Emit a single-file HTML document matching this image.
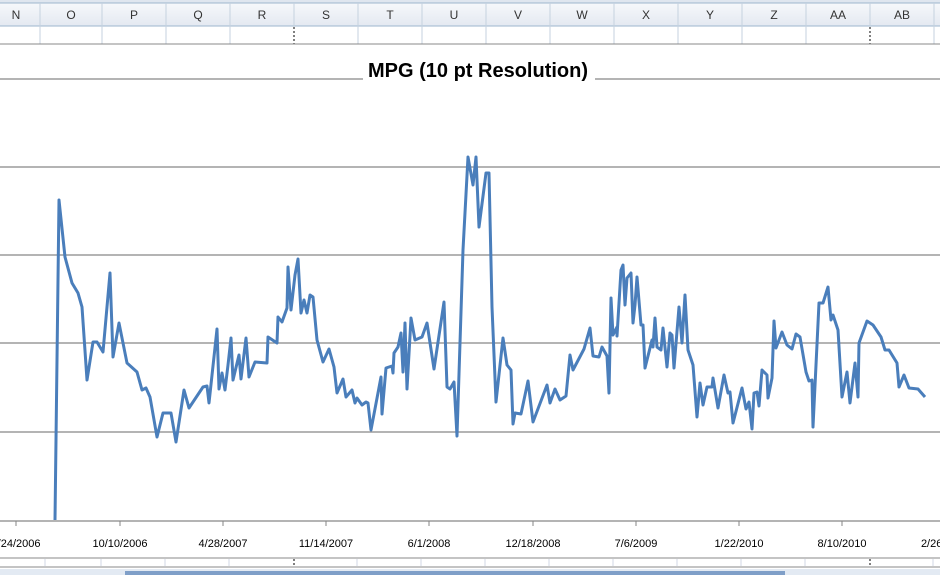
<!DOCTYPE html>
<html><head><meta charset="utf-8"><style>
body{margin:0;width:940px;height:575px;overflow:hidden;background:#fff;font-family:"Liberation Sans",sans-serif}
</style></head><body>
<svg width="940" height="575" xmlns="http://www.w3.org/2000/svg" font-family="Liberation Sans, sans-serif">
<defs><linearGradient id="hg" x1="0" y1="0" x2="0" y2="1"><stop offset="0" stop-color="#f6f8fb"/><stop offset="1" stop-color="#e4e9f1"/></linearGradient></defs>
<rect x="0" y="0" width="940" height="3" fill="#dfe6ef"/>
<rect x="0" y="3" width="940" height="23" fill="url(#hg)"/>
<line x1="0" y1="3" x2="940" y2="3" stroke="#9eb6ce"/>
<line x1="0" y1="26" x2="940" y2="26" stroke="#9eb6ce"/>
<g stroke="#c5d2df">
<line x1="40" y1="3" x2="40" y2="44"/><line x1="102" y1="3" x2="102" y2="44"/><line x1="166" y1="3" x2="166" y2="44"/><line x1="230" y1="3" x2="230" y2="44"/><line x1="294" y1="3" x2="294" y2="26"/><line x1="358" y1="3" x2="358" y2="44"/><line x1="422" y1="3" x2="422" y2="44"/><line x1="486" y1="3" x2="486" y2="44"/><line x1="550" y1="3" x2="550" y2="44"/><line x1="614" y1="3" x2="614" y2="44"/><line x1="678" y1="3" x2="678" y2="44"/><line x1="742" y1="3" x2="742" y2="44"/><line x1="806" y1="3" x2="806" y2="44"/><line x1="870" y1="3" x2="870" y2="26"/><line x1="934" y1="3" x2="934" y2="44"/>
</g>
<line x1="294" y1="27" x2="294" y2="44" stroke="#000" stroke-dasharray="2,2"/>
<line x1="870" y1="27" x2="870" y2="44" stroke="#000" stroke-dasharray="2,2"/>
<g font-size="12" fill="#333" text-anchor="middle">
<text x="16" y="19">N</text><text x="71" y="19">O</text><text x="134" y="19">P</text><text x="198" y="19">Q</text><text x="262" y="19">R</text><text x="326" y="19">S</text><text x="390" y="19">T</text><text x="454" y="19">U</text><text x="518" y="19">V</text><text x="582" y="19">W</text><text x="646" y="19">X</text><text x="710" y="19">Y</text><text x="774" y="19">Z</text><text x="838" y="19">AA</text><text x="902" y="19">AB</text>
</g>
<line x1="0" y1="44" x2="940" y2="44" stroke="#888"/>
<g stroke="#868686" stroke-width="1.2">
<line x1="0" y1="79" x2="940" y2="79"/><line x1="0" y1="167" x2="940" y2="167"/><line x1="0" y1="255" x2="940" y2="255"/><line x1="0" y1="343" x2="940" y2="343"/><line x1="0" y1="432" x2="940" y2="432"/><line x1="0" y1="521" x2="940" y2="521"/>
</g>
<rect x="363" y="58" width="232" height="24" fill="#fff"/>
<text x="478" y="77" font-size="20" font-weight="bold" text-anchor="middle" fill="#000">MPG (10 pt Resolution)</text>
<g stroke="#868686"><line x1="16" y1="521" x2="16" y2="526"/><line x1="120" y1="521" x2="120" y2="526"/><line x1="223" y1="521" x2="223" y2="526"/><line x1="326" y1="521" x2="326" y2="526"/><line x1="429" y1="521" x2="429" y2="526"/><line x1="533" y1="521" x2="533" y2="526"/><line x1="636" y1="521" x2="636" y2="526"/><line x1="739" y1="521" x2="739" y2="526"/><line x1="842" y1="521" x2="842" y2="526"/></g>
<g font-size="11" fill="#000" text-anchor="middle">
<text x="16" y="547">4/24/2006</text><text x="120" y="547">10/10/2006</text><text x="223" y="547">4/28/2007</text><text x="326" y="547">11/14/2007</text><text x="429" y="547">6/1/2008</text><text x="533" y="547">12/18/2008</text><text x="636" y="547">7/6/2009</text><text x="739" y="547">1/22/2010</text><text x="842" y="547">8/10/2010</text><text x="945" y="547">2/26/2011</text>
</g>
<polyline fill="none" stroke="#4a7ebb" stroke-width="3" stroke-linejoin="round" points="55,520 59,200 65,257 72,283 78,293 82,307 87,380 93,342 97,342 103,352 110,273 113,357 119,323 127,363 137,372 142,390 146,388 150,397 157,437 163,413 171,413 176,442 184,390 189,408 203,387 207,386 209,403 217,329 219,389 222,373 225,390 228,365 231,338 233,380 239,355 241,379 246,338 249,377 255,362 267,363 268,337 277,343 278,317 282,322 287,308 288,267 291,310 295,275 298,259 301,313 304,300 307,313 310,295 313,297 317,340 323,362 329,349 334,367 337,393 343,379 346,397 352,390 355,403 357,398 362,405 366,402 368,403 371,430 381,377 382,414 386,368 392,366 393,373 394,353 398,347 401,333 403,372 405,323 407,389 411,318 415,340 422,337 427,323 434,369 444,302 447,387 450,389 454,382 457,436 463,250 468,157 473,185 476,157 479,227 486,173 489,173 492,307 496,402 503,338 507,365 511,370 513,424 515,413 521,414 528,381 533,422 547,385 550,403 555,389 560,400 566,396 570,355 573,370 584,349 590,328 593,356 599,357 602,347 607,356 609,393 611,298 613,335 617,327 617,336 621,270 623,265 625,305 627,278 631,273 633,323 635,305 637,277 641,325 643,325 645,368 652,340 653,347 655,318 657,347 661,350 663,328 667,367 670,333 672,335 674,368 679,307 682,343 685,295 688,350 693,365 697,417 700,383 703,405 707,387 712,387 713,378 718,408 724,375 728,393 730,392 733,423 742,388 746,409 749,402 752,429 754,393 757,392 759,406 762,370 767,375 768,398 772,378 774,321 776,348 782,332 787,345 792,349 796,334 800,337 806,372 809,381 812,380 813,427 819,303 823,303 828,287 831,320 833,315 838,330 842,397 847,372 850,403 855,363 858,397 859,343 867,321 873,325 881,337 885,350 889,350 897,363 899,387 904,375 909,388 918,389 925,397"/>
<line x1="0" y1="558" x2="940" y2="558" stroke="#888"/>
<g stroke="#d0d7e5"><line x1="45" y1="559" x2="45" y2="566"/><line x1="101" y1="559" x2="101" y2="566"/><line x1="165" y1="559" x2="165" y2="566"/><line x1="229" y1="559" x2="229" y2="566"/><line x1="357" y1="559" x2="357" y2="566"/><line x1="421" y1="559" x2="421" y2="566"/><line x1="485" y1="559" x2="485" y2="566"/><line x1="549" y1="559" x2="549" y2="566"/><line x1="613" y1="559" x2="613" y2="566"/><line x1="677" y1="559" x2="677" y2="566"/><line x1="741" y1="559" x2="741" y2="566"/><line x1="805" y1="559" x2="805" y2="566"/><line x1="933" y1="559" x2="933" y2="566"/></g>
<line x1="294" y1="559" x2="294" y2="566" stroke="#000" stroke-dasharray="2,2"/>
<line x1="870" y1="559" x2="870" y2="566" stroke="#000" stroke-dasharray="2,2"/>
<line x1="0" y1="567" x2="940" y2="567" stroke="#888"/>
<rect x="0" y="569" width="940" height="6" fill="#e3eaf3"/>
<rect x="125" y="571" width="660" height="4" fill="#7f9fc8"/>
</svg>
</body></html>
